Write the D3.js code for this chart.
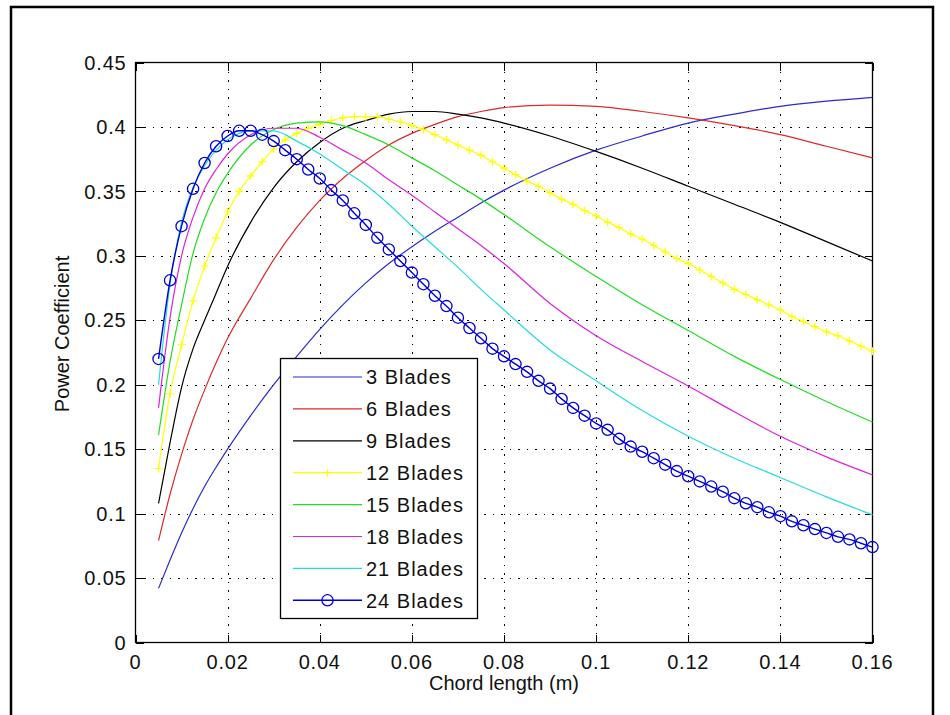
<!DOCTYPE html>
<html>
<head>
<meta charset="utf-8">
<script src="https://cdn.jsdelivr.net/npm/d3@7"></script>
<style>
  body { margin: 0; background: #fff; }
  svg { display: block; font-family: "Liberation Sans", Arial, sans-serif; }
  .grid line { stroke: #000; stroke-width: 1; stroke-dasharray: 1.5,7; shape-rendering: crispEdges; }
  .tick-mark { stroke: #000; stroke-width: 1; shape-rendering: crispEdges; }
  .tick-label { font-size: 20px; fill: #111; letter-spacing: 0.8px; }
  .axis-title { font-size: 20px; fill: #111; }
  .legend text { font-size: 20px; fill: #111; letter-spacing: 1px; }
</style>
</head>
<body>
<script>
"use strict";

// chord lengths (m) sampled by the plotted curves
var chordFine = [0.005, 0.0075, 0.01, 0.0125, 0.015, 0.0175, 0.02, 0.0225, 0.025, 0.0275,
  0.03, 0.0325, 0.035, 0.0375, 0.04, 0.0425, 0.045, 0.0475, 0.05, 0.0525,
  0.055, 0.0575, 0.06, 0.0625, 0.065, 0.0675, 0.07, 0.0725, 0.075, 0.0775,
  0.08, 0.0825, 0.085, 0.0875, 0.09, 0.0925, 0.095, 0.0975, 0.1, 0.1025,
  0.105, 0.1075, 0.11, 0.1125, 0.115, 0.1175, 0.12, 0.1225, 0.125, 0.1275,
  0.13, 0.1325, 0.135, 0.1375, 0.14, 0.1425, 0.145, 0.1475, 0.15, 0.1525,
  0.155, 0.1575, 0.16];
var chordCoarse = [0.005, 0.0075, 0.01, 0.0125, 0.015, 0.0175, 0.02, 0.025, 0.03, 0.035,
  0.04, 0.045, 0.05, 0.055, 0.06, 0.065, 0.07, 0.075, 0.08, 0.09,
  0.1, 0.11, 0.12, 0.13, 0.14, 0.15, 0.16];

// power coefficient per blade count
var cp3 = [0.042, 0.064, 0.085, 0.104, 0.121, 0.136, 0.150, 0.176, 0.200, 0.222,
  0.243, 0.262, 0.279, 0.294, 0.307, 0.319, 0.330, 0.341, 0.351, 0.368,
  0.382, 0.393, 0.403, 0.410, 0.416, 0.420, 0.423];
var cp6 = [0.079, 0.115, 0.146, 0.173, 0.196, 0.217, 0.236, 0.267, 0.297, 0.322,
  0.343, 0.360, 0.374, 0.386, 0.395, 0.402, 0.408, 0.412, 0.415, 0.417,
  0.416, 0.412, 0.407, 0.401, 0.394, 0.385, 0.376];
var cp9 = [0.108, 0.155, 0.198, 0.228, 0.250, 0.271, 0.292, 0.326, 0.353, 0.373,
  0.388, 0.399, 0.405, 0.410, 0.412, 0.412, 0.410, 0.407, 0.403, 0.393,
  0.381, 0.368, 0.354, 0.340, 0.326, 0.311, 0.296];
var cp12 = [0.135, 0.193, 0.231, 0.265, 0.292, 0.314, 0.334, 0.350, 0.362, 0.373,
  0.383, 0.390, 0.395, 0.399, 0.402, 0.405, 0.407, 0.408, 0.408, 0.408,
  0.406, 0.404, 0.401, 0.398, 0.394, 0.390, 0.386, 0.382, 0.378, 0.373,
  0.368, 0.363, 0.358, 0.354, 0.349, 0.344, 0.340, 0.335, 0.331, 0.326,
  0.322, 0.317, 0.313, 0.308, 0.303, 0.298, 0.294, 0.289, 0.284, 0.279,
  0.274, 0.270, 0.266, 0.262, 0.258, 0.253, 0.249, 0.245, 0.241, 0.238,
  0.234, 0.230, 0.226];
var cp15 = [0.161, 0.218, 0.262, 0.302, 0.329, 0.349, 0.364, 0.386, 0.398, 0.403,
  0.404, 0.401, 0.394, 0.386, 0.376, 0.366, 0.355, 0.344, 0.332, 0.307,
  0.284, 0.262, 0.242, 0.222, 0.204, 0.187, 0.171];
var cp18 = [0.182, 0.252, 0.300, 0.330, 0.352, 0.367, 0.379, 0.394, 0.399, 0.399,
  0.392, 0.382, 0.372, 0.359, 0.347, 0.334, 0.321, 0.308, 0.294, 0.263,
  0.238, 0.218, 0.199, 0.179, 0.160, 0.144, 0.130];
var cp21 = [0.200, 0.278, 0.326, 0.353, 0.370, 0.382, 0.390, 0.397, 0.397, 0.389,
  0.379, 0.367, 0.355, 0.340, 0.323, 0.307, 0.291, 0.274, 0.258, 0.227,
  0.203, 0.180, 0.160, 0.143, 0.128, 0.113, 0.099];
var cp24 = [0.220, 0.281, 0.323, 0.352, 0.372, 0.385, 0.393, 0.397, 0.397, 0.394,
  0.389, 0.382, 0.375, 0.367, 0.360, 0.351, 0.343, 0.333, 0.324, 0.314,
  0.305, 0.296, 0.287, 0.278, 0.269, 0.261, 0.252, 0.244, 0.236, 0.228,
  0.222, 0.216, 0.210, 0.203, 0.197, 0.189, 0.182, 0.176, 0.170, 0.165,
  0.158, 0.152, 0.148, 0.143, 0.138, 0.133, 0.129, 0.125, 0.121, 0.117,
  0.112, 0.108, 0.105, 0.101, 0.098, 0.094, 0.091, 0.088, 0.085, 0.082,
  0.080, 0.077, 0.074];

var seriesNames = ["3 Blades", "6 Blades", "9 Blades", "12 Blades", "15 Blades", "18 Blades", "21 Blades", "24 Blades"];

var xTicks = [0, 0.02, 0.04, 0.06, 0.08, 0.1, 0.12, 0.14, 0.16];
var xTickLabels = ["0", "0.02", "0.04", "0.06", "0.08", "0.1", "0.12", "0.14", "0.16"];
var yTicks = [0, 0.05, 0.1, 0.15, 0.2, 0.25, 0.3, 0.35, 0.4, 0.45];
var yTickLabels = ["0", "0.05", "0.1", "0.15", "0.2", "0.25", "0.3", "0.35", "0.4", "0.45"];

var colors = ["#2a2ad0", "#dd2a2a", "#000000", "#ffff00", "#22dd22", "#dd22dd", "#22dddd", "#0000d8"];
var markers = [null, null, null, "plus", null, null, null, "circle"];

var width = 950, height = 715;
var plot = { left: 135.5, right: 872.5, top: 62.5, bottom: 642.5 };

var svg = d3.select("body").append("svg")
  .attr("width", width)
  .attr("height", height);

// outer frame of the figure
svg.append("path")
  .attr("d", "M11,715 L11,7 L933,7 L933,715")
  .attr("fill", "none")
  .attr("stroke", "#000")
  .attr("stroke-width", 2.5);

var x = d3.scaleLinear().domain([0, 0.16]).range([plot.left, plot.right]);
var y = d3.scaleLinear().domain([0, 0.45]).range([plot.bottom, plot.top]);

// dotted grid
var grid = svg.append("g").attr("class", "grid");
grid.selectAll(".gx").data(xTicks.slice(1, -1)).enter().append("line")
  .attr("x1", function (d) { return Math.round(x(d)) + 0.5; })
  .attr("x2", function (d) { return Math.round(x(d)) + 0.5; })
  .attr("y1", plot.bottom).attr("y2", plot.top);
grid.selectAll(".gy").data(yTicks.slice(1, -1)).enter().append("line")
  .attr("y1", function (d) { return Math.round(y(d)) + 0.5; })
  .attr("y2", function (d) { return Math.round(y(d)) + 0.5; })
  .attr("x1", plot.left).attr("x2", plot.right);

// box
svg.append("rect")
  .attr("x", plot.left).attr("y", plot.top)
  .attr("width", plot.right - plot.left)
  .attr("height", plot.bottom - plot.top)
  .attr("fill", "none")
  .attr("stroke", "#000")
  .attr("stroke-width", 1.3);

// inward ticks on all four sides
var tickLen = 8;
var ticks = svg.append("g");
xTicks.forEach(function (t) {
  var px = Math.round(x(t)) + 0.5;
  ticks.append("line").attr("class", "tick-mark")
    .attr("x1", px).attr("x2", px).attr("y1", plot.bottom).attr("y2", plot.bottom - tickLen);
  ticks.append("line").attr("class", "tick-mark")
    .attr("x1", px).attr("x2", px).attr("y1", plot.top).attr("y2", plot.top + tickLen);
});
yTicks.forEach(function (t) {
  var py = Math.round(y(t)) + 0.5;
  ticks.append("line").attr("class", "tick-mark")
    .attr("y1", py).attr("y2", py).attr("x1", plot.left).attr("x2", plot.left + tickLen);
  ticks.append("line").attr("class", "tick-mark")
    .attr("y1", py).attr("y2", py).attr("x1", plot.right).attr("x2", plot.right - tickLen);
});

svg.append("g").selectAll("text").data(xTicks).enter().append("text")
  .attr("class", "tick-label")
  .attr("x", function (d) { return x(d); })
  .attr("y", plot.bottom + 26)
  .attr("text-anchor", "middle")
  .text(function (d, i) { return xTickLabels[i]; });

svg.append("g").selectAll("text").data(yTicks).enter().append("text")
  .attr("class", "tick-label")
  .attr("x", plot.left - 9)
  .attr("y", function (d) { return y(d); })
  .attr("dy", "0.36em")
  .attr("text-anchor", "end")
  .text(function (d, i) { return yTickLabels[i]; });

svg.append("text")
  .attr("class", "axis-title")
  .attr("x", (plot.left + plot.right) / 2)
  .attr("y", 690)
  .attr("text-anchor", "middle")
  .text("Chord length (m)");

svg.append("text")
  .attr("class", "axis-title")
  .attr("transform", "translate(69," + 334 + ") rotate(-90)")
  .attr("text-anchor", "middle")
  .text("Power Coefficient");

// series
var series = [
  { xs: chordCoarse, ys: cp3 },
  { xs: chordCoarse, ys: cp6 },
  { xs: chordCoarse, ys: cp9 },
  { xs: chordFine, ys: cp12 },
  { xs: chordCoarse, ys: cp15 },
  { xs: chordCoarse, ys: cp18 },
  { xs: chordCoarse, ys: cp21 },
  { xs: chordFine, ys: cp24 }
].map(function (s, i) {
  return {
    name: seriesNames[i],
    color: colors[i],
    marker: markers[i],
    points: s.xs.map(function (c, j) { return [c, s.ys[j]]; })
  };
});

var line = d3.line()
  .x(function (d) { return x(d[0]); })
  .y(function (d) { return y(d[1]); })
  .curve(d3.curveMonotoneX);

function drawMarker(g, kind, px, py, color) {
  if (kind === "circle") {
    g.append("circle").attr("cx", px).attr("cy", py).attr("r", 5.6)
      .attr("fill", "none").attr("stroke", color).attr("stroke-width", 1.3);
  } else if (kind === "plus") {
    g.append("path")
      .attr("d", "M" + (px - 4) + "," + py + "H" + (px + 4) + "M" + px + "," + (py - 4) + "V" + (py + 4))
      .attr("stroke", color).attr("stroke-width", 1.2);
  }
}

var curves = svg.append("g");
series.forEach(function (s) {
  var g = curves.append("g");
  g.append("path")
    .attr("d", line(s.points))
    .attr("fill", "none")
    .attr("stroke", s.color)
    .attr("stroke-width", s.marker === "circle" ? 1.4 : 1.2);
  if (s.marker) {
    s.points.forEach(function (p) {
      drawMarker(g, s.marker, x(p[0]), y(p[1]), s.color);
    });
  }
});

// legend
var leg = svg.append("g").attr("class", "legend");
leg.append("rect")
  .attr("x", 280.5).attr("y", 358.5)
  .attr("width", 197).attr("height", 260)
  .attr("fill", "#fff").attr("stroke", "#000").attr("stroke-width", 1.3);

series.forEach(function (s, i) {
  var ly = 377 + i * 31.9;
  leg.append("line")
    .attr("x1", 293).attr("x2", 362)
    .attr("y1", ly).attr("y2", ly)
    .attr("stroke", s.color)
    .attr("stroke-width", s.marker === "circle" ? 1.4 : 1.2);
  if (s.marker) drawMarker(leg, s.marker, 327.5, ly, s.color);
  leg.append("text")
    .attr("x", 366)
    .attr("y", ly)
    .attr("dy", "0.36em")
    .text(s.name);
});
</script>
</body>
</html>
